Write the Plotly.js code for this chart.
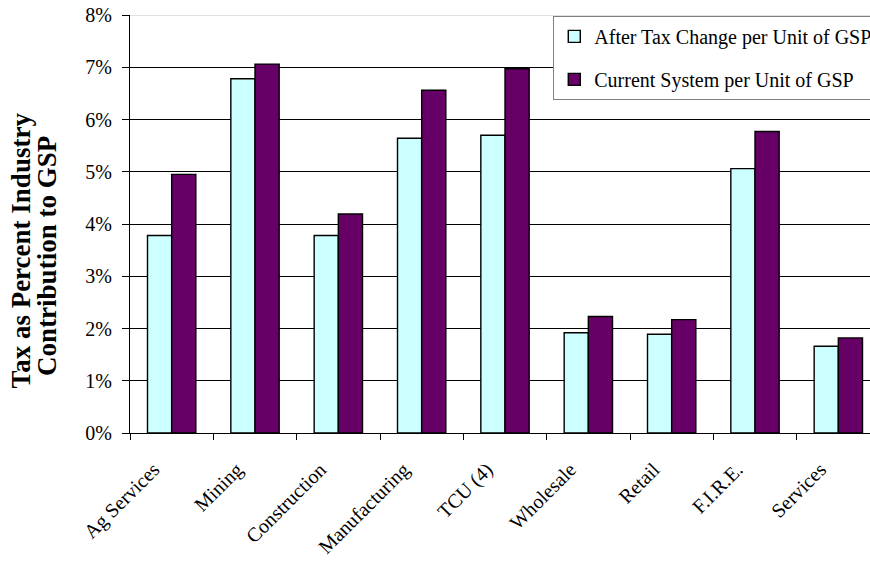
<!DOCTYPE html>
<html>
<head>
<meta charset="utf-8">
<script src="https://cdn.plot.ly/plotly-3.0.1.min.js"></script>
<style>html,body{margin:0;padding:0;background:#fff;}#chart{width:870px;height:562px;}</style>
</head>
<body>
<div id="chart"></div>
<script>
const categories = ["Ag Services","Mining","Construction","Manufacturing","TCU (4)","Wholesale","Retail","F.I.R.E.","Services"];
const afterTax = [0.0378,0.0678,0.0378,0.0564,0.0570,0.0192,0.0189,0.0506,0.0166];
const currentSystem = [0.0495,0.0706,0.0419,0.0656,0.0697,0.0223,0.0217,0.0577,0.0182];
const yTickVals = [0,0.01,0.02,0.03,0.04,0.05,0.06,0.07,0.08];
const yTickText = ["0%","1%","2%","3%","4%","5%","6%","7%","8%"];
const seriesNames = ["After Tax Change per Unit of GSP","Current System per Unit of GSP"];
const yTitleLines = ["Tax as Percent Industry","Contribution to GSP"];

const serif = "Liberation Serif, Times New Roman, serif";

const traces = [
  {type:"bar", x:categories, y:afterTax, name:seriesNames[0], legendgroup:"a",
   marker:{color:"#CCFFFF", line:{color:"#000000", width:1.4}}},
  {type:"bar", x:categories, y:currentSystem, name:seriesNames[1], legendgroup:"b",
   marker:{color:"#660066", line:{color:"#000000", width:1.4}}}
];

const layout = {
  width:870, height:562,
  margin:{l:130, r:0, t:15, b:128.5, autoexpand:false},
  paper_bgcolor:"#ffffff", plot_bgcolor:"#ffffff",
  font:{family:serif, size:20, color:"#000000"},
  barmode:"group", bargap:0.42, bargroupgap:0,
  showlegend:true,
  legend:{x:0.572, xanchor:"left", y:0.998, yanchor:"top",
    bgcolor:"#ffffff", bordercolor:"#808080", borderwidth:1,
    font:{family:serif, size:20, color:"#000000"},
    traceorder:"grouped", tracegroupgap:14},
  xaxis:{type:"category", range:[-0.5, 8.38], tickson:"boundaries",
    ticks:"outside", ticklen:6, tickcolor:"#000000", tickwidth:1,
    showline:true, linecolor:"#000000", linewidth:1,
    showgrid:false, tickangle:-45, ticklabelstandoff:16, ticklabelshift:-18,
    tickfont:{family:serif, size:20, color:"#000000"}},
  yaxis:{range:[0,0.08], tickvals:yTickVals, ticktext:yTickText,
    ticks:"outside", ticklen:7, tickcolor:"#000000",
    showline:true, linecolor:"#000000", linewidth:1,
    showgrid:true, gridcolor:"#000000", gridwidth:1, zeroline:false,
    ticklabelstandoff:6,
    tickfont:{family:serif, size:20, color:"#000000"}},
  annotations:[
    {text:"<b>"+yTitleLines[0]+"</b>", xref:"paper", yref:"paper", x:-0.148, y:0.438,
     xanchor:"center", yanchor:"middle", textangle:-90, showarrow:false,
     font:{family:serif, size:27, color:"#000000"}},
    {text:"<b>"+yTitleLines[1]+"</b>", xref:"paper", yref:"paper", x:-0.112, y:0.424,
     xanchor:"center", yanchor:"middle", textangle:-90, showarrow:false,
     font:{family:serif, size:27, color:"#000000"}}
  ],
  shapes:[{type:"line", xref:"paper", yref:"y", x0:0, x1:1, y0:0.08, y1:0.08,
    line:{color:"#d9d9d9", width:1.5}, layer:"above"}]
};

Plotly.newPlot("chart", traces, layout, {displayModeBar:false, staticPlot:true});
</script>
</body>
</html>
